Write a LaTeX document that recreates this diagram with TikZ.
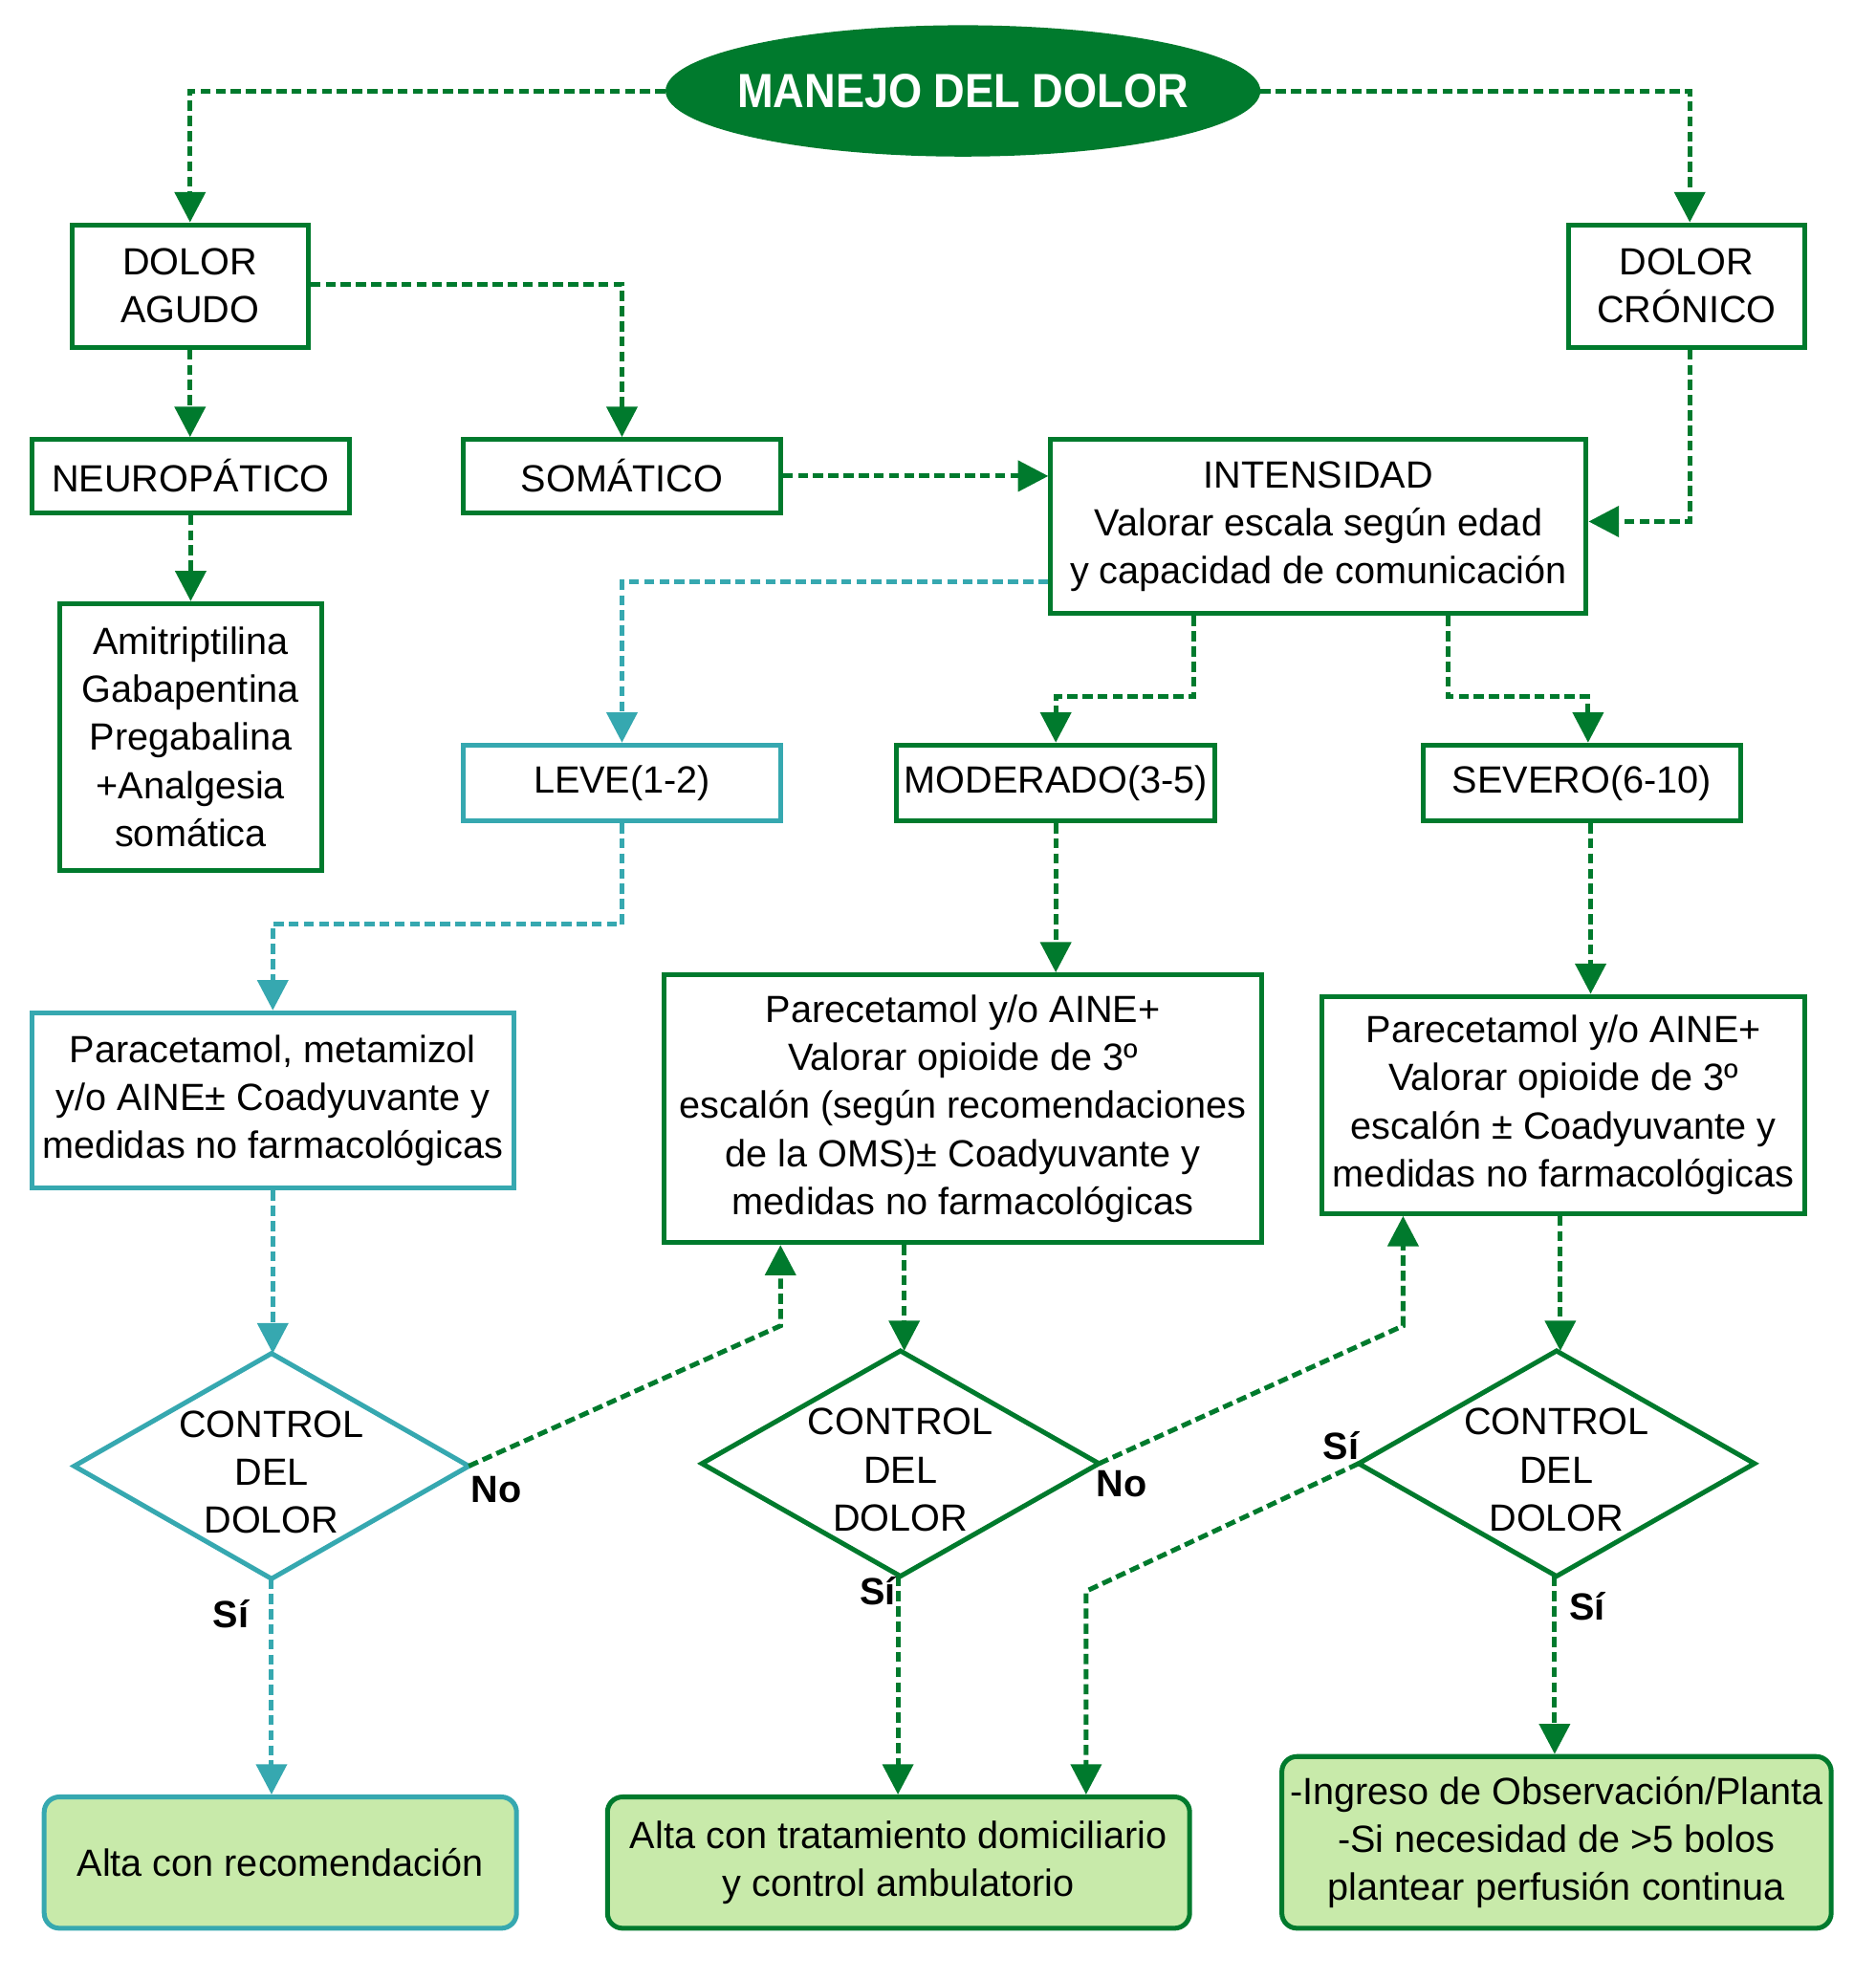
\documentclass[tikz,border=0pt]{standalone}
\usepackage{fontspec}
\setmainfont{Liberation Sans}
\newfontfamily\titlefont[FakeStretch=0.9]{Liberation Sans}
\usetikzlibrary{arrows.meta,shapes.geometric}
\definecolor{dgreen}{RGB}{0,122,45}
\definecolor{cyanc}{RGB}{54,168,176}
\definecolor{lgreen}{RGB}{200,234,170}
\begin{document}
\begin{tikzpicture}[x=1pt,y=-1pt,
  every node/.style={font=\fontsize{30}{38}\selectfont, inner sep=0pt, align=center, text=black},
  gbox/.style={draw=dgreen, line width=3.8pt, rectangle, fill=white},
  cbox/.style={draw=cyanc, line width=3.8pt, rectangle, fill=white},
  gend/.style={draw=dgreen, line width=3.8pt, rectangle, rounded corners=12pt, fill=lgreen},
  cend/.style={draw=cyanc, line width=3.8pt, rectangle, rounded corners=12pt, fill=lgreen},
  dnode/.style={rectangle},
  dtext/.style={label={[yshift=-5pt, font=\fontsize{30}{38}\selectfont, align=center]center:CONTROL\\DEL\\DOLOR}},
  conn/.style={draw=dgreen, line width=3.8pt, dash pattern=on 8pt off 4pt, -{Triangle[width=24pt,length=24pt]}},
  cconn/.style={draw=cyanc, line width=3.8pt, dash pattern=on 8pt off 4pt, -{Triangle[width=24pt,length=24pt]}},
  lab/.style={font=\fontsize{30}{38}\selectfont\bfseries}
]
\useasboundingbox (0,0) rectangle (1485,1568);
\fill[white] (0,0) rectangle (1485,1568);

% title
\node[ellipse, fill=dgreen, minimum width=471pt, minimum height=104pt,
  label={[text=white, font=\titlefont\fontsize{38}{44}\selectfont\bfseries]center:MANEJO DEL DOLOR}] (title) at (762.5,72) {};

% boxes
\node[gbox, minimum width=187pt, minimum height=97pt] (agudo) at (150.5,226.5) {DOLOR\\AGUDO};
\node[gbox, minimum width=187pt, minimum height=97pt] (cronico) at (1335.5,226.5) {DOLOR\\CRÓNICO};
\node[gbox, minimum width=252pt, minimum height=58pt] (neuro) at (151,377) {NEUROPÁTICO};
\node[gbox, minimum width=251pt, minimum height=58pt] (somatico) at (492.5,377) {SOMÁTICO};
\node[gbox, minimum width=424pt, minimum height=138pt] (intens) at (1044,417) {INTENSIDAD\\Valorar escala según edad\\y capacidad de comunicación};
\node[gbox, minimum width=208pt, minimum height=211pt] (amitr) at (151,583.5) {Amitriptilina\\Gabapentina\\Pregabalina\\+Analgesia\\somática};
\node[cbox, minimum width=251pt, minimum height=60pt] (leve) at (492.5,620) {LEVE(1-2)};
\node[gbox, minimum width=252pt, minimum height=60pt] (moderado) at (836,620) {MODERADO(3-5)};
\node[gbox, minimum width=251pt, minimum height=60pt] (severo) at (1252.5,620) {SEVERO(6-10)};
\node[cbox, minimum width=382pt, minimum height=139pt] (parac) at (216,871.5) {Paracetamol, metamizol\\y/o AINE± Coadyuvante y\\medidas no farmacológicas};
\node[gbox, minimum width=473pt, minimum height=212pt] (modbox) at (762.5,878) {Parecetamol y/o AINE+\\Valorar opioide de 3º\\escalón (según recomendaciones\\de la OMS)± Coadyuvante y\\medidas no farmacológicas};
\node[gbox, minimum width=382pt, minimum height=172pt] (sevbox) at (1238,875) {Parecetamol y/o AINE+\\Valorar opioide de 3º\\escalón ± Coadyuvante y\\medidas no farmacológicas};

% diamonds
\node[dnode, minimum width=312pt, minimum height=178pt, dtext] (d1) at (215,1161) {};
\node[dnode, minimum width=314pt, minimum height=178pt, dtext] (d2) at (713,1159) {};
\node[dnode, minimum width=313pt, minimum height=178pt, dtext] (d3) at (1232.5,1159) {};
\draw[cyanc, line width=3.8pt, line join=miter] (d1.north) -- (d1.east) -- (d1.south) -- (d1.west) -- cycle;
\draw[dgreen, line width=3.8pt, line join=miter] (d2.north) -- (d2.east) -- (d2.south) -- (d2.west) -- cycle;
\draw[dgreen, line width=3.8pt, line join=miter] (d3.north) -- (d3.east) -- (d3.south) -- (d3.west) -- cycle;

% end boxes
\node[cend, minimum width=374pt, minimum height=104pt] (alta1) at (222,1475) {Alta con recomendación};
\node[gend, minimum width=461pt, minimum height=104pt] (alta2) at (711.5,1475) {Alta con tratamiento domiciliario\\y control ambulatorio};
\node[gend, minimum width=435pt, minimum height=136pt] (alta3) at (1232.5,1459) {-Ingreso de Observación/Planta\\-Si necesidad de >5 bolos\\plantear perfusión continua};

% connectors
\draw[conn] (title.west) -| (agudo.north);
\draw[conn] (title.east) -| ([xshift=2.5pt]cronico.north);
\draw[conn] ([yshift=1.5pt]agudo.east) -| (somatico.north);
\draw[conn] (agudo.south) -- (agudo.south |- neuro.north);
\draw[conn] (somatico.east) -- (somatico.east -| intens.west);
\draw[conn] ([xshift=2.5pt]cronico.south) |- ([yshift=4pt]intens.east);
\draw[conn] (neuro.south) -- (neuro.south |- amitr.north);
\draw[cconn] ([yshift=-44pt]intens.west) -| (leve.north);
\draw[conn] ([xshift=-99pt]intens.south) -- ++(0,64) -| (moderado.north);
\draw[conn] ([xshift=103pt]intens.south) -- ++(0,64) -| ([xshift=5pt]severo.north);
\draw[cconn] (leve.south) -- ++(0,80) -| (parac.north);
\draw[conn] (moderado.south) -- (moderado.south |- modbox.north);
\draw[conn] ([xshift=7pt]severo.south) -- ([xshift=7pt]severo.south |- sevbox.north);
\draw[cconn] (parac.south) -- (parac.south |- d1.north);
\draw[conn] ([xshift=3pt]d2.north |- modbox.south) -- ([xshift=3pt]d2.north);
\draw[conn] ([xshift=3pt]d3.north |- sevbox.south) -- ([xshift=3pt]d3.north);
\draw[conn] (d1.east) -- ([xshift=-144.5pt,yshift=-64pt]modbox.south) -- ([xshift=-144.5pt]modbox.south);
\draw[conn] (d2.east) -- ([xshift=-127pt,yshift=-87pt]sevbox.south) -- ([xshift=-127pt]sevbox.south);
\draw[conn] (d3.west) -- ([xshift=148.5pt,yshift=161pt]alta2.north) -- ([xshift=148.5pt]alta2.north);
\draw[cconn] (d1.south) -- (d1.south |- alta1.north);
\draw[conn] ([xshift=-2pt]d2.south) -- ([xshift=-2pt]d2.south |- alta2.north);
\draw[conn] ([xshift=-1.5pt]d3.south) -- ([xshift=-1.5pt]d3.south |- alta3.north);

% labels
\node[lab] (no1) at (393,1180) {No};
\node[lab] (no2) at (888,1175) {No};
\node[lab] (si1) at (183,1278) {Sí};
\node[lab] (si2) at (695,1260) {Sí};
\node[lab] (si3) at (1062,1145) {Sí};
\node[lab] (si4) at (1257,1272) {Sí};
\end{tikzpicture}
\end{document}
